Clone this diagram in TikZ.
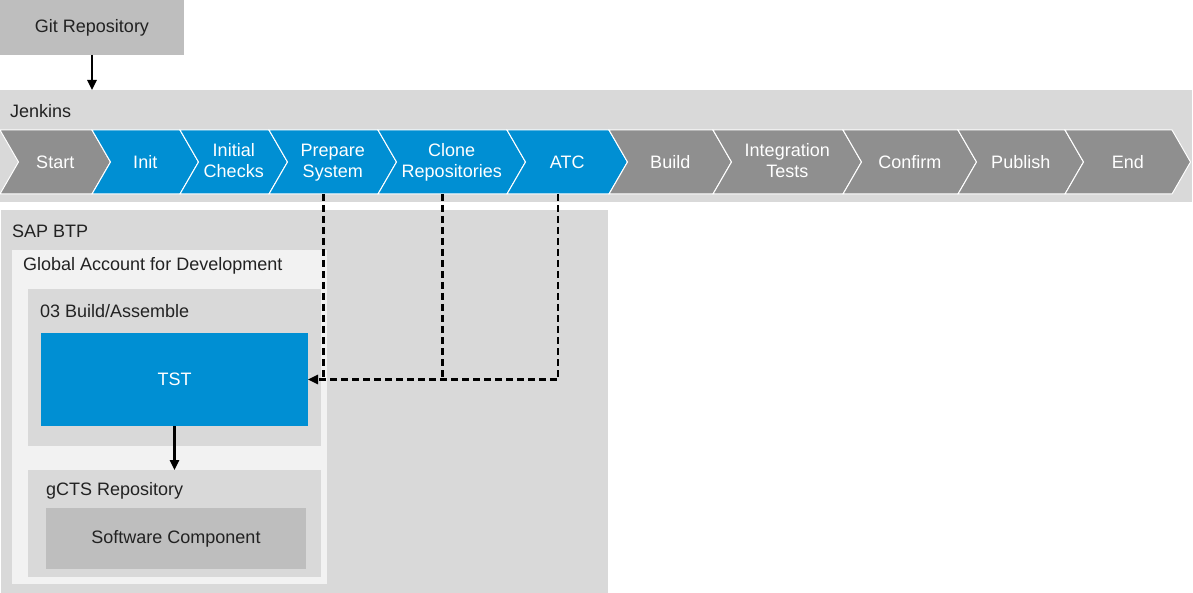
\documentclass[tikz,border=0pt]{standalone}
\usepackage{fontspec}
\setmainfont{Liberation Sans}
\usetikzlibrary{positioning, arrows.meta, calc}
\definecolor{sapblue}{HTML}{008FD3}
\definecolor{stepgray}{HTML}{8F8F8F}
\definecolor{darkbox}{HTML}{BEBEBE}
\definecolor{midbox}{HTML}{D9D9D9}
\definecolor{lightbox}{HTML}{F2F2F2}
\definecolor{inktext}{HTML}{222222}
\tikzset{
        my-box/.style={
            draw=none, inner sep=0pt, outer sep=0pt, text=inktext
        },
        my-label/.style={
            anchor=west, inner sep=0pt, text=inktext
        },
        my-step/.style={
            fill=#1, draw=white, line width=1pt, line join=miter
        },
        my-step-text/.style={
            text=white, align=center, inner sep=0pt,
            execute at begin node=\strut, execute at end node=\strut
        },
        my-flow/.style={
            line width=2.4pt, -{Triangle[length=10pt,width=9pt]}
        },
        my-dash/.style={
            line width=2.8pt, dash pattern=on 7pt off 4pt
        },
}

\begin{document}
\begin{tikzpicture}[x=1pt, y=-1pt, font=\fontsize{18}{21}\selectfont]

        \useasboundingbox (0,0) rectangle (1193,593);

        %DRAW BOXES (placed at their centres, labels relative to the corners)
        \node [my-box, fill=darkbox, minimum width=184, minimum height=55]   (GIT)     at (92,27.5)     {Git Repository};
        \node [my-box, fill=midbox, minimum width=1192, minimum height=112]  (JENKINS) at (596,146)     {};
        \node [my-box, fill=midbox, minimum width=607, minimum height=383]   (BTP)     at (304.5,401.5) {};
        \node [my-box, fill=lightbox, minimum width=315, minimum height=334] (GA)      at (169.5,417)   {};
        \node [my-box, fill=midbox, minimum width=293, minimum height=157]   (BUILD)   at (174.5,367.5) {};
        \node [my-box, fill=sapblue, text=white, minimum width=267, minimum height=93] (TST) at (174.5,379.5) {TST};
        \node [my-box, fill=midbox, minimum width=293, minimum height=107]   (GCTS)    at (174.5,523.5) {};
        \node [my-box, fill=darkbox, minimum width=260, minimum height=61]   (SWC)     at (176,538.5)   {Software Component};

        % BOX LABELS
        \node [my-label] (JENKINS-L) at ($(JENKINS.north west)+(10,21)$) {Jenkins};
        \node [my-label] (BTP-L)     at ($(BTP.north west)+(11,21)$)     {SAP BTP};
        \node [my-label] (GA-L)      at ($(GA.north west)+(11,16)$)      {Global Account for Development};
        \node [my-label] (BUILD-L)   at ($(BUILD.north west)+(12,22)$)   {03 Build/Assemble};
        \node [my-label] (GCTS-L)    at ($(GCTS.north west)+(18,21)$)    {gCTS Repository};

        % PIPELINE STEPS (left edge / right edge / name / text / colour)
        \foreach \l/\r/\n/\t/\c in {0/92/start/Start/stepgray, 92/180/init/Init/sapblue,
                180/269/checks/{Initial\\Checks}/sapblue, 269/378/prep/{Prepare\\System}/sapblue,
                378/507/clone/{Clone\\Repositories}/sapblue, 507/609/atc/ATC/sapblue,
                609/713/build/Build/stepgray, 713/843/itest/{Integration\\Tests}/stepgray,
                843/958/confirm/Confirm/stepgray, 958/1065/publish/Publish/stepgray,
                1065/1172/end/End/stepgray}{
            \path [my-step=\c] (\l,130) -- (\r,130) -- ({\r+18.5},162) -- (\r,194)
                -- (\l,194) -- ({\l+18.5},162) -- cycle;
            \node [my-step-text] (\n) at ({(\l+\r+18.5)/2},164) {\t};
            \coordinate (\n-foot) at ({(\l+\r)/2},194);
        }

        % CONNECT GIT TO JENKINS
        \draw [my-flow] (GIT.south) -- (GIT.south |- JENKINS.north);

        % CONNECT STEPS TO TST
        \draw [my-dash, my-flow] (atc-foot) |- (TST.east);
        \draw [my-dash] (clone-foot) -- (clone-foot |- TST.east);
        \draw [my-dash] (prep-foot) -- (prep-foot |- TST.east);

        % CONNECT TST TO GCTS
        \draw [my-flow] (TST.south) -- (TST.south |- GCTS.north);

    \end{tikzpicture}
\end{document}
